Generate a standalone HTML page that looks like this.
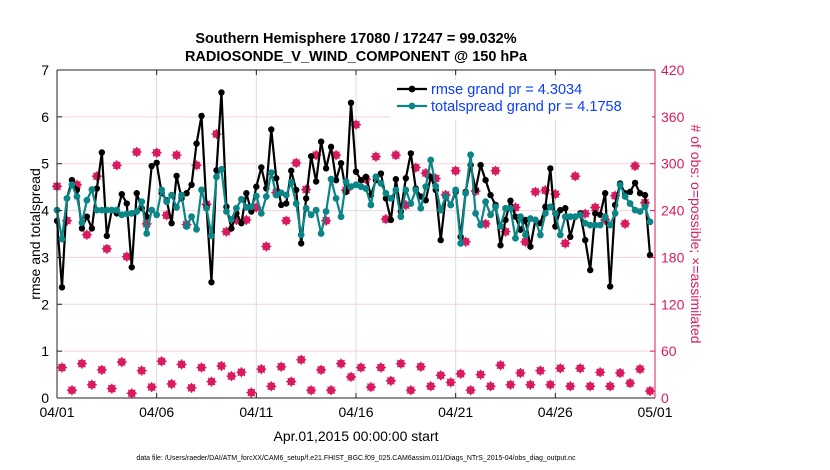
<!DOCTYPE html>
<html><head><meta charset="utf-8">
<style>
body{margin:0;background:#fff;}
svg{display:block;font-family:"Liberation Sans",Arial,sans-serif;}
</style></head>
<body>
<svg id="chart" width="830" height="470" viewBox="0 0 830 470" xmlns="http://www.w3.org/2000/svg">
<rect x="0" y="0" width="830" height="470" fill="#fff"/>
<g id="grid"></g>
<g id="obs"></g>
<g id="series"></g>
<g id="axes"></g>
<text x="356" y="43" font-size="14.5" font-weight="bold" text-anchor="middle">Southern Hemisphere 17080 / 17247 = 99.032%</text>
<text x="356" y="61" font-size="14.5" font-weight="bold" text-anchor="middle">RADIOSONDE_V_WIND_COMPONENT @ 150 hPa</text>
<text transform="translate(40,234) rotate(-90)" font-size="14" text-anchor="middle">rmse and totalspread</text>
<text transform="translate(691,234) rotate(90)" font-size="14" fill="#d81b60" text-anchor="middle"># of obs: o=possible; ×=assimilated</text>
<text x="356" y="441" font-size="14" text-anchor="middle">Apr.01,2015 00:00:00 start</text>
<text x="356" y="460" font-size="7" text-anchor="middle">data file: /Users/raeder/DAI/ATM_forcXX/CAM6_setup/f.e21.FHIST_BGC.f09_025.CAM6assim.011/Diags_NTrS_2015-04/obs_diag_output.nc</text>
<g id="legend"></g>
</svg>
<script>
const xTickLabels = ["04/01","04/06","04/11","04/16","04/21","04/26","05/01"];
const yTicks = [0,1,2,3,4,5,6,7];
const y2Ticks = [0,60,120,180,240,300,360,420];
const rmse = [3.78,2.36,4.26,4.65,4.44,3.62,3.87,3.62,4.47,5.24,3.46,4.01,3.94,4.35,4.15,2.79,4.37,4.05,3.87,4.95,
5.02,4.37,4.22,3.73,4.74,4.26,4.37,4.55,5.43,6.02,4.08,2.47,4.86,6.52,4.08,3.62,3.94,3.73,4.37,3.98,
4.51,4.92,4.47,5.73,4.69,4.12,4.15,4.85,4.44,3.30,4.26,5.16,4.62,5.47,4.90,5.36,4.65,5.01,4.40,6.30,
4.83,4.65,4.72,4.33,4.65,4.79,4.26,3.80,4.67,3.98,4.69,5.22,4.47,4.30,4.22,4.72,4.44,3.37,4.30,4.12,
4.40,3.44,4.40,4.97,4.44,4.97,4.65,4.33,4.12,3.26,3.80,4.21,3.87,3.59,3.80,3.23,3.80,3.73,4.08,4.90,
3.66,4.01,4.05,3.44,3.87,3.94,3.37,2.73,3.94,3.91,4.37,2.38,4.12,4.58,4.37,4.40,4.59,4.37,4.33,3.05];
const spread = [4.01,3.39,4.26,4.55,4.30,3.74,4.22,4.45,4.01,4.01,4.01,4.01,4.01,3.91,3.93,3.94,3.98,4.19,3.51,4.01,
3.91,4.44,4.19,4.33,4.07,4.33,3.66,3.87,3.60,4.44,4.05,3.46,4.72,4.88,3.98,3.81,4.05,4.24,4.07,4.08,
4.31,3.94,4.30,4.81,4.33,4.38,4.33,4.60,4.15,3.48,4.05,3.91,4.01,3.51,3.98,4.67,4.26,3.87,4.62,4.51,
4.55,4.51,4.47,4.12,4.72,4.58,4.37,4.26,4.44,3.87,4.44,4.15,4.44,4.05,4.51,5.08,4.52,4.01,4.30,4.12,
4.44,3.30,4.37,5.19,3.94,3.69,4.19,3.91,4.08,3.66,4.05,4.05,3.41,3.87,3.48,3.83,3.80,3.48,3.94,4.08,
3.94,3.48,3.87,3.87,3.87,3.91,3.73,3.69,3.69,3.69,3.87,3.69,3.94,4.55,4.30,4.15,4.01,3.98,4.08,3.76];
const obsMain = [271,227,273,209,284,191,298,181,315,223,314,234,311,222,298,248,338,213,228,228,
244,194,263,227,301,267,311,227,311,266,350,280,309,229,311,247,295,288,281,260,
291,200,265,223,291,213,244,200,264,266,261,198,284,236,244,228,259,223,297,250];
const obsMinor = [39,10,44,17,36,12,46,6,35,14,47,18,43,13,39,21,41,28,33,7,
37,15,40,21,49,10,36,10,44,27,39,14,39,22,44,10,40,15,29,20,
31,10,30,15,42,17,32,17,35,17,38,15,38,15,33,15,32,19,37,9];

const NS="http://www.w3.org/2000/svg";
const X0=57,X1=655,Y0=398,Y1=70;
const xs = i => X0 + (X1-X0)*(i/4)/30;
const ys = v => Y0 - (Y0-Y1)*v/7;
const ys2 = v => Y0 - (Y0-Y1)*v/420;
function mk(tag, attrs, parent){const e=document.createElementNS(NS,tag);for(const k in attrs)e.setAttribute(k,attrs[k]);parent.appendChild(e);return e;}
const grid=document.getElementById('grid'), axes=document.getElementById('axes');
y2Ticks.forEach((t,i)=>{ if(t>0&&t<420){const l=mk('line',{x1:X0,x2:X1,y1:ys2(t),y2:ys2(t),stroke:'#f1d3df','stroke-width':1},grid);

}});
xTickLabels.forEach((lab,i)=>{const x=X0+(X1-X0)*i/6;
 if(i>0&&i<6){const l=mk('line',{x1:x,x2:x,y1:Y1,y2:Y0,stroke:'#dcdcdc','stroke-width':1},grid);
 
 }
 mk('line',{x1:x,x2:x,y1:Y0,y2:Y0-5,stroke:'#222'},axes);
 mk('line',{x1:x,x2:x,y1:Y1,y2:Y1+5,stroke:'#222'},axes);
 const t=mk('text',{x:x,y:Y0+19,'font-size':14,'text-anchor':'middle'},axes);t.textContent=lab;
 
 
});
yTicks.forEach(v=>{const y=ys(v);
 mk('line',{x1:X0,x2:X0+5,y1:y,y2:y,stroke:'#222'},axes);
 const t=mk('text',{x:X0-8,y:y+5,'font-size':14,'text-anchor':'end'},axes);t.textContent=v;
 
 
});
y2Ticks.forEach(v=>{const y=ys2(v);
 mk('line',{x1:X1-5,x2:X1,y1:y,y2:y,stroke:'#d81b60'},axes);
 const t=mk('text',{x:X1+6,y:y+5,'font-size':14,fill:'#d81b60'},axes);t.textContent=v;
 
 
});
mk('line',{x1:X0,x2:X1,y1:Y1,y2:Y1,stroke:'#222'},axes);
mk('line',{x1:X0,x2:X1,y1:Y0,y2:Y0,stroke:'#222'},axes);
mk('line',{x1:X0,x2:X0,y1:Y1,y2:Y0,stroke:'#222'},axes);
mk('line',{x1:X1,x2:X1,y1:Y1,y2:Y0,stroke:'#d81b60'},axes);

const obsG=document.getElementById('obs');
function obsMark(x,y){const g=mk('g',{},obsG);
 
 
 mk('circle',{cx:x,cy:y,r:4,fill:'#d81b60'},g);
 mk('path',{d:`M${x-5} ${y}H${x+5}M${x} ${y-5}V${y+5}M${x-3.5} ${y-3.5}L${x+3.5} ${y+3.5}M${x-3.5} ${y+3.5}L${x+3.5} ${y-3.5}`,stroke:'#d81b60','stroke-width':1.3},g);}
obsMain.forEach((v,k)=>obsMark(xs(2*k),ys2(v)));
obsMinor.forEach((v,k)=>obsMark(xs(2*k+1),ys2(v)));

const sg=document.getElementById('series');
function drawSeries(arr,color,name,marker){
 const p=mk('polyline',{points:arr.map((v,i)=>xs(i)+','+ys(v)).join(' '),fill:'none',stroke:color,'stroke-width':2.2,'stroke-linejoin':'round'},sg);
 
 
 arr.forEach((v,i)=>{const c=mk('circle',{cx:xs(i),cy:ys(v),r:marker,fill:color},sg);
  
  });
}
drawSeries(rmse,'#000','rmse',3.2);
drawSeries(spread,'#0b8585','totalspread',3.4);

const lg=document.getElementById('legend');
mk('rect',{x:390,y:80,width:262,height:40,fill:'#fff'},lg);
[['#000','rmse grand pr = 4.3034',94,'legend-entry-rmse'],['#0b8585','totalspread grand pr = 4.1758',111,'legend-entry-totalspread']].forEach(e=>{
 const g=mk('g',{},lg);
 
 
 mk('line',{x1:397,x2:427,y1:e[2]-5,y2:e[2]-5,stroke:e[0],'stroke-width':2.2},g);
 mk('circle',{cx:412,cy:e[2]-5,r:3.4,fill:e[0]},g);
 const t=mk('text',{x:431,y:e[2],'font-size':14.5,fill:'#0a3cff'},g);t.textContent=e[1];
});
</script>
</body></html>
